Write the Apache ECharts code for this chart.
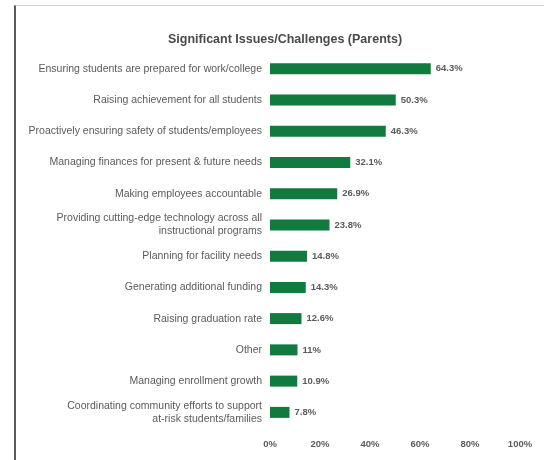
<!DOCTYPE html>
<html>
<head>
<meta charset="utf-8">
<script src="https://cdn.jsdelivr.net/npm/echarts@6/dist/echarts.min.js"></script>
<style>
  html, body { margin: 0; padding: 0; background: #fff; }
  #frame { position: absolute; left: 14px; top: 5px; width: 530px; height: 455px;
           border-left: 2px solid #5a5a5a; border-top: 1px solid #d4d4d4; }
  #chart { position: absolute; left: 0; top: 0; width: 544px; height: 460px; }
</style>
</head>
<body>
<div id="frame"></div>
<div id="chart"></div>
<script>
// categories, top to bottom as in the picture
const categories = [
  'Ensuring students are prepared for work/college',
  'Raising achievement for all students',
  'Proactively ensuring safety of students/employees',
  'Managing finances for present & future needs',
  'Making employees accountable',
  'Providing cutting-edge technology across all\ninstructional programs',
  'Planning for facility needs',
  'Generating additional funding',
  'Raising graduation rate',
  'Other',
  'Managing enrollment growth',
  'Coordinating community efforts to support\nat-risk students/families'
];
const percents = [64.3, 50.3, 46.3, 32.1, 26.9, 23.8, 14.8, 14.3, 12.6, 11, 10.9, 7.8];
const ticks = [0, 20, 40, 60, 80, 100];

const GREEN = '#117a3f';
const TEXT = '#5b5b5b';
const FONT = '"Liberation Sans", Arial, sans-serif';

const chart = echarts.init(document.getElementById('chart'));
chart.setOption({
  animation: false,
  title: {
    text: 'Significant Issues/Challenges (Parents)',
    left: 280, top: 28, textAlign: 'center',
    textStyle: { fontFamily: FONT, fontSize: 12.5, fontWeight: 'bold', color: '#4a4a4a' }
  },
  grid: { left: 270, right: 24, top: 53, bottom: 32, containLabel: false },
  xAxis: {
    type: 'value', min: ticks[0], max: ticks[ticks.length - 1], interval: 20,
    axisLine: { show: false }, axisTick: { show: false }, splitLine: { show: false },
    axisLabel: { formatter: '{value}%', color: TEXT, fontFamily: FONT, fontSize: 9.5, fontWeight: 'bold', margin: 11 }
  },
  yAxis: {
    type: 'category', inverse: true, data: categories,
    axisLine: { show: false }, axisTick: { show: false },
    axisLabel: { color: TEXT, fontFamily: FONT, fontSize: 10.5, margin: 8, lineHeight: 13, align: 'right' }
  },
  series: [{
    type: 'bar', data: percents, barWidth: 11,
    itemStyle: { color: GREEN },
    label: {
      show: true, position: 'right', distance: 5,
      formatter: p => p.value + '%',
      color: TEXT, fontFamily: FONT, fontSize: 9.5, fontWeight: 'bold'
    }
  }]
});
</script>
</body>
</html>
